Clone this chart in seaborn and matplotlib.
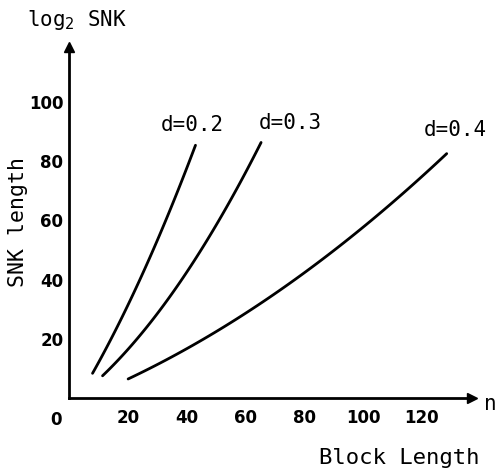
import numpy as np
import matplotlib
matplotlib.use("Agg")
import matplotlib.pyplot as plt
import seaborn as sb
import pandas as pd

# valores (n, log2 SNK)
n_02 = [8.0, 17.6, 27.8, 34.6, 43.0]
snk_02 = [8.4, 26.4, 47.8, 64.7, 85.2]
n_03 = [11.4, 26.7, 41.4, 52.7, 65.3]
snk_03 = [8.1, 23.0, 44.4, 64.7, 85.5]
n_04 = [20.1, 40.2, 65.1, 87.7, 110.3, 128.4]
snk_04 = [6.7, 16.3, 32.1, 47.8, 67.0, 82.2]

labels = ["d=0.2", "d=0.3", "d=0.4"]
label_pos = [(42, 92.2), (75.3, 92.9), (131.2, 90.5)]
xticks = [20, 40, 60, 80, 100, 120]
yticks = [20, 40, 60, 80, 100]

sb.set_style("white")
plt.rcParams["mathtext.fontset"] = "dejavusans"
plt.rcParams["text.color"] = "black"
mono = "DejaVu Sans Mono"

df = pd.concat([
    pd.DataFrame({"n": n_02, "snk": snk_02, "d": labels[0]}),
    pd.DataFrame({"n": n_03, "snk": snk_03, "d": labels[1]}),
    pd.DataFrame({"n": n_04, "snk": snk_04, "d": labels[2]}),
])

fig = plt.figure(figsize=(4.97, 4.75), dpi=100)
ax = fig.add_axes([69/497, 1-398/475, (472-69)/497, (398-47)/475])

# curvas suaves (parábola ajustada aos pontos lidos)
for d in labels:
    sub = df[df.d == d]
    coef = np.polyfit(sub.n, sub.snk, 2)
    xs = np.linspace(sub.n.min(), sub.n.max(), 60)
    sm = pd.DataFrame({"n": xs, "snk": np.polyval(coef, xs)})
    sb.lineplot(data=sm, x="n", y="snk", ax=ax, color="black", linewidth=2.0, sort=False)

for lab, (x, y) in zip(labels, label_pos):
    ax.text(x, y, lab, family=mono, fontsize=15, ha="center", va="center", color="black")

ax.set_xlim(0, 137)
ax.set_ylim(0, 118.6)
ax.set_xticks(xticks)
ax.set_yticks(yticks)
ax.set_xticklabels([str(t) for t in xticks], fontsize=12, fontweight="bold", color="black")
ax.set_yticklabels([str(t) for t in yticks], fontsize=12, fontweight="bold", color="black")
ax.text(-4.4, 0, "0", fontsize=12, fontweight="bold", ha="center", va="top", color="black",
        transform=ax.transData + matplotlib.transforms.ScaledTranslation(0, -9.5/72, fig.dpi_scale_trans),
        clip_on=False)
ax.tick_params(axis="x", direction="in", length=3, width=1.5, pad=8, colors="black")
ax.tick_params(axis="y", direction="in", length=3, width=1.5, pad=4, colors="black")
ax.set_xlabel("")
ax.set_ylabel("")

for s in ["top", "right"]:
    ax.spines[s].set_visible(False)
for s in ["left", "bottom"]:
    ax.spines[s].set_linewidth(2)
    ax.spines[s].set_color("black")

# setas dos eixos
ax.plot(1, 0, ">k", markersize=7, transform=ax.transAxes, clip_on=False)
ax.plot(0, 1, "^k", markersize=7, transform=ax.transAxes, clip_on=False)

fig.text(27/497, 1-20/475, "log$_2$ SNK", family=mono, fontsize=15, ha="left", va="center")
fig.text(18/497, 1-222/475, "SNK length", family=mono, fontsize=15.5, rotation=90, ha="center", va="center")
fig.text(490/497, 1-404/475, "n", family=mono, fontsize=15, ha="center", va="center")
fig.text(399/497, 1-458/475, "Block Length", family=mono, fontsize=16, ha="center", va="center")

fig.savefig("out.png", dpi=100)
